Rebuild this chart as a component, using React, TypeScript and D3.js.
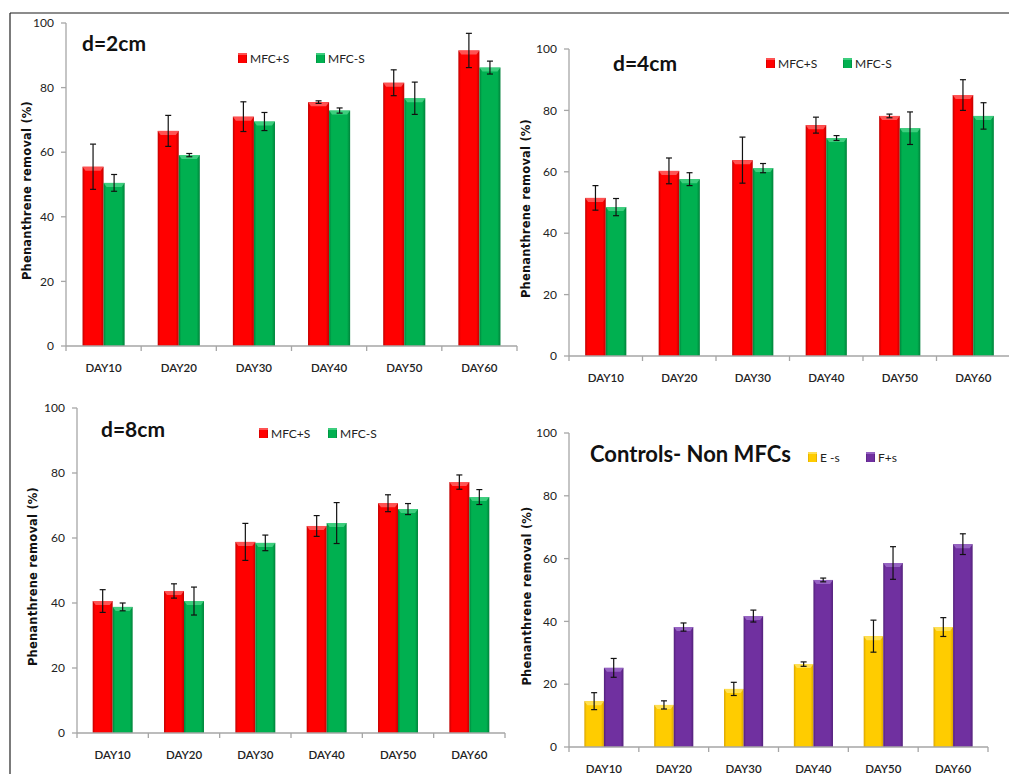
import React from "react";
import * as d3 from "d3";

const categories = ["DAY10", "DAY20", "DAY30", "DAY40", "DAY50", "DAY60"];
const yTicks = [0, 20, 40, 60, 80, 100];

// d=2cm
const d2MfcPlusS = [55.5, 66.6, 71.0, 75.5, 81.5, 91.5];
const d2MfcPlusSErr = [7.0, 4.8, 4.6, 0.4, 4.0, 5.3];
const d2MfcMinusS = [50.5, 59.1, 69.5, 72.9, 76.7, 86.2];
const d2MfcMinusSErr = [2.6, 0.5, 2.8, 0.8, 5.0, 2.0];

// d=4cm
const d4MfcPlusS = [51.5, 60.3, 63.8, 75.2, 78.2, 85.0];
const d4MfcPlusSErr = [4.0, 4.2, 7.5, 2.6, 0.6, 5.0];
const d4MfcMinusS = [48.5, 57.6, 61.2, 71.0, 74.2, 78.2];
const d4MfcMinusSErr = [2.8, 2.1, 1.5, 0.8, 5.3, 4.3];

// d=8cm
const d8MfcPlusS = [40.6, 43.7, 58.8, 63.7, 70.7, 77.2];
const d8MfcPlusSErr = [3.5, 2.2, 5.7, 3.2, 2.6, 2.2];
const d8MfcMinusS = [38.8, 40.6, 58.5, 64.6, 68.9, 72.6];
const d8MfcMinusSErr = [1.2, 4.3, 2.4, 6.3, 1.7, 2.3];

// Controls
const ctrlEminusS = [14.6, 13.4, 18.5, 26.4, 35.3, 38.2];
const ctrlEminusSErr = [2.7, 1.3, 2.1, 0.7, 5.1, 3.0];
const ctrlFplusS = [25.2, 38.2, 41.7, 53.2, 58.6, 64.6];
const ctrlFplusSErr = [3.0, 1.3, 1.9, 0.6, 5.2, 3.3];

type Series = { name: string; values: number[]; errors: number[]; color: string; dark: string; light: string };

type PanelCfg = {
  id: string;
  title: string;
  titleSize: number;
  x0: number;
  x1: number;
  yTop: number;
  yBottom: number;
  labelX: number;
  titleX: number;
  titleY: number;
  legendX: number[];
  legendY: number;
  series: Series[];
};

const RED = { color: "#ff0000", dark: "#c00000", light: "#ff6666" };
const GREEN = { color: "#00b050", dark: "#00823a", light: "#4cd68a" };
const YELLOW = { color: "#ffcc00", dark: "#d9a400", light: "#ffe566" };
const PURPLE = { color: "#7030a0", dark: "#52207a", light: "#a070cc" };

const panels: PanelCfg[] = [
  {
    id: "p1", title: "d=2cm", titleSize: 21, x0: 66, x1: 517, yTop: 23, yBottom: 346, labelX: 27,
    titleX: 82, titleY: 51, legendX: [238, 316], legendY: 53,
    series: [
      { name: "MFC+S", values: d2MfcPlusS, errors: d2MfcPlusSErr, ...RED },
      { name: "MFC-S", values: d2MfcMinusS, errors: d2MfcMinusSErr, ...GREEN },
    ],
  },
  {
    id: "p2", title: "d=4cm", titleSize: 21, x0: 569, x1: 1010, yTop: 49, yBottom: 356, labelX: 526,
    titleX: 613, titleY: 71, legendX: [766, 843], legendY: 58,
    series: [
      { name: "MFC+S", values: d4MfcPlusS, errors: d4MfcPlusSErr, ...RED },
      { name: "MFC-S", values: d4MfcMinusS, errors: d4MfcMinusSErr, ...GREEN },
    ],
  },
  {
    id: "p3", title: "d=8cm", titleSize: 21, x0: 77, x1: 505, yTop: 408, yBottom: 733, labelX: 33,
    titleX: 101, titleY: 437, legendX: [259, 328], legendY: 428,
    series: [
      { name: "MFC+S", values: d8MfcPlusS, errors: d8MfcPlusSErr, ...RED },
      { name: "MFC-S", values: d8MfcMinusS, errors: d8MfcMinusSErr, ...GREEN },
    ],
  },
  {
    id: "p4", title: "Controls- Non MFCs", titleSize: 22, x0: 569, x1: 988, yTop: 433, yBottom: 747, labelX: 527,
    titleX: 590, titleY: 462, legendX: [808, 866], legendY: 452,
    series: [
      { name: "E -s", values: ctrlEminusS, errors: ctrlEminusSErr, ...YELLOW },
      { name: "F+s", values: ctrlFplusS, errors: ctrlFplusSErr, ...PURPLE },
    ],
  },
];

const FONT = "Lato, 'Open Sans', 'DejaVu Sans', sans-serif";

function Panel({ cfg }: { cfg: PanelCfg }) {
  const x = d3.scaleBand<string>().domain(categories).range([cfg.x0, cfg.x1]).paddingInner(0).paddingOuter(0);
  const y = d3.scaleLinear().domain([0, 100]).range([cfg.yBottom, cfg.yTop]);
  const bw = x.bandwidth();
  const inner = d3.scaleBand<number>().domain([0, 1]).range([0, bw]).paddingOuter(0.785).paddingInner(0);
  const axisColor = "#a6a6a6";
  const boundaries = categories.map((c) => x(c) as number).concat([cfg.x1]);
  const midY = (cfg.yTop + cfg.yBottom) / 2;

  return (
    <g>
      <defs>
        {cfg.series.map((s, i) => (
          <linearGradient key={i} id={`${cfg.id}-g${i}`} x1="0" x2="1" y1="0" y2="0">
            <stop offset="0" stopColor={s.dark} />
            <stop offset="0.12" stopColor={s.color} />
            <stop offset="0.85" stopColor={s.color} />
            <stop offset="1" stopColor={s.dark} />
          </linearGradient>
        ))}
      </defs>
      {/* bars */}
      {categories.map((c, ci) => (
        <g key={c}>
          {cfg.series.map((s, si) => {
            const bx = (x(c) as number) + (inner(si) as number);
            const w = inner.bandwidth();
            const top = y(s.values[ci]);
            const h = cfg.yBottom - top;
            return (
              <g key={si}>
                <rect x={bx} y={top} width={w} height={h} fill={`url(#${cfg.id}-g${si})`} />
                <path
                  d={`M${bx},${top} L${bx + w},${top} L${bx + w - 3},${top + 4} L${bx + 3},${top + 4} Z`}
                  fill={s.light}
                  opacity={0.8}
                />
              </g>
            );
          })}
        </g>
      ))}
      {/* error bars */}
      {categories.map((c, ci) => (
        <g key={c + "e"}>
          {cfg.series.map((s, si) => {
            const cx = (x(c) as number) + (inner(si) as number) + inner.bandwidth() / 2;
            const yt = y(s.values[ci] + s.errors[ci]);
            const yb = y(s.values[ci] - s.errors[ci]);
            return (
              <g key={si} stroke="#111" strokeWidth={1.2}>
                <line x1={cx} x2={cx} y1={yt} y2={yb} />
                <line x1={cx - 3} x2={cx + 3} y1={yt} y2={yt} />
                <line x1={cx - 3} x2={cx + 3} y1={yb} y2={yb} />
              </g>
            );
          })}
        </g>
      ))}
      {/* y axis */}
      <line x1={cfg.x0} x2={cfg.x0} y1={cfg.yTop} y2={cfg.yBottom} stroke={axisColor} strokeWidth={1.3} />
      {yTicks.map((t) => (
        <g key={t}>
          <line x1={cfg.x0 - 5} x2={cfg.x0} y1={y(t)} y2={y(t)} stroke={axisColor} strokeWidth={1.3} />
          <text x={cfg.x0 - 12} y={y(t)} dy="0.35em" textAnchor="end" fontSize={12} fill="#222" fontFamily={FONT}>
            {t}
          </text>
        </g>
      ))}
      {/* x axis */}
      <line x1={cfg.x0} x2={cfg.x1} y1={cfg.yBottom} y2={cfg.yBottom} stroke={axisColor} strokeWidth={1.3} />
      {boundaries.map((b, i) => (
        <line key={i} x1={b} x2={b} y1={cfg.yBottom} y2={cfg.yBottom + 5} stroke={axisColor} strokeWidth={1.3} />
      ))}
      {categories.map((c) => (
        <text
          key={c}
          x={(x(c) as number) + bw / 2}
          y={cfg.yBottom + 26}
          textAnchor="middle"
          fontSize={11.5}
          fill="#222"
          fontFamily={FONT}
          fontWeight={600}
        >
          {c}
        </text>
      ))}
      {/* axis title */}
      <text
        transform={`translate(${cfg.labelX},${midY + 6}) rotate(-90)`}
        textAnchor="middle"
        dy="0.35em"
        fontSize={11.5}
        fontWeight="bold"
        fill="#111"
        fontFamily="'DejaVu Sans', sans-serif"
        letterSpacing={0.2}
      >
        Phenanthrene removal (%)
      </text>
      {/* title */}
      <text x={cfg.titleX} y={cfg.titleY} fontSize={cfg.titleSize} fontWeight="bold" fill="#111" fontFamily={FONT}>
        {cfg.title}
      </text>
      {/* legend */}
      {cfg.series.map((s, i) => (
        <g key={s.name}>
          <rect x={cfg.legendX[i]} y={cfg.legendY} width={9} height={10} fill={`url(#${cfg.id}-g${i})`} />
          <rect x={cfg.legendX[i]} y={cfg.legendY} width={9} height={2} fill={s.light} opacity={0.8} />
          <text x={cfg.legendX[i] + 12} y={cfg.legendY + 9.5} fontSize={12} fill="#222" fontFamily={FONT}>
            {s.name}
          </text>
        </g>
      ))}
    </g>
  );
}

export default function App() {
  return (
    <svg
      width={1009}
      height={774}
      viewBox="0 0 1009 774"
      style={{ position: "absolute", left: 0, top: 0, background: "#fff" }}
    >
      <rect x={0} y={0} width={1009} height={774} fill="#fff" />
      <line x1={10} x2={1009} y1={13} y2={13} stroke="#666" strokeWidth={1.5} />
      <line x1={10} x2={10} y1={13} y2={774} stroke="#222" strokeWidth={1.2} />
      {panels.map((p) => (
        <Panel key={p.id} cfg={p} />
      ))}
    </svg>
  );
}
